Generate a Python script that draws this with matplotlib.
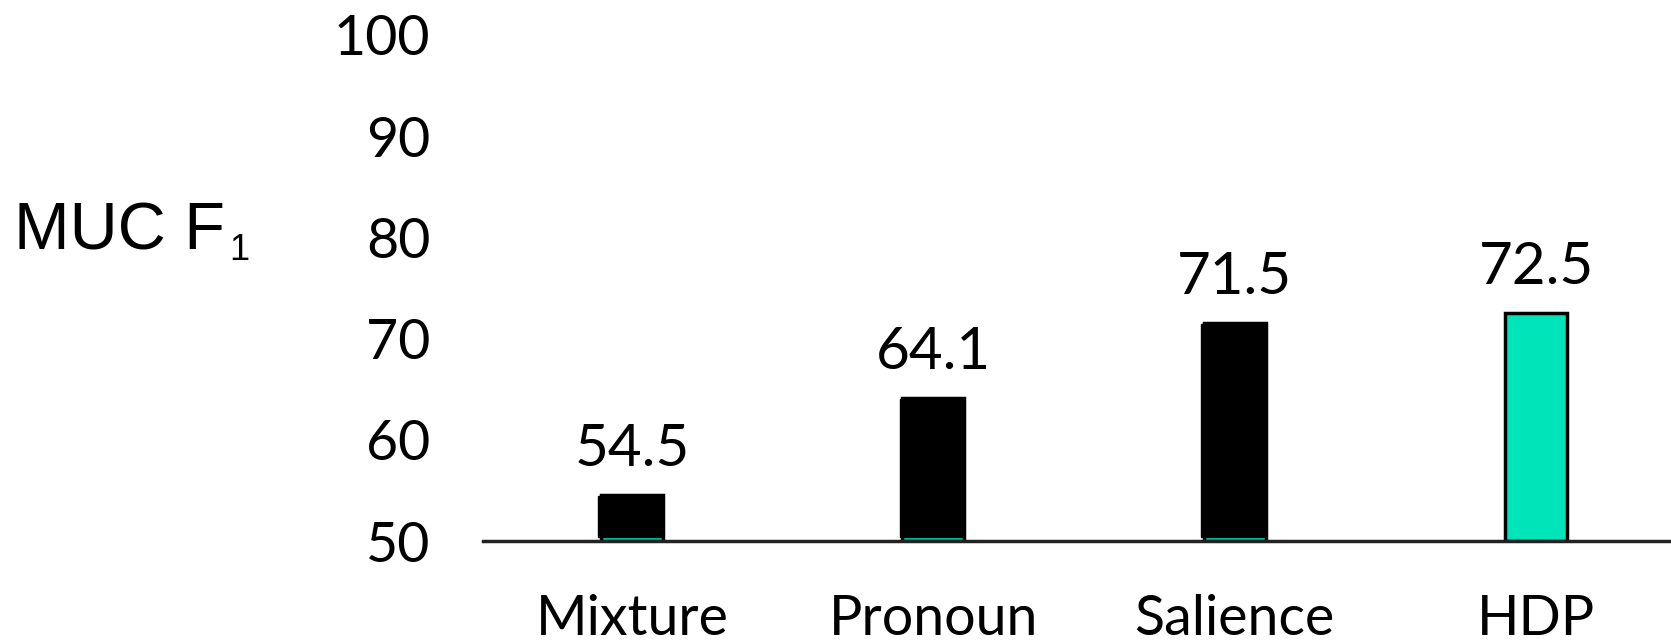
import matplotlib
matplotlib.use("Agg")
import matplotlib.pyplot as plt

categories = ["Mixture", "Pronoun", "Salience", "HDP"]
values = [54.5, 64.1, 71.5, 72.5]
labels = ["54.5", "64.1", "71.5", "72.5"]
overlay_black = [True, True, True, False]
yticks = [50, 60, 70, 80, 90, 100]

TEAL = "#00E4B9"
FONT = ["Lato", "DejaVu Sans"]

W, H = 1671, 643
fig = plt.figure(figsize=(W / 100, H / 100), dpi=100)
ax = fig.add_axes([483 / W, 1 - 541 / H, 1 - 483 / W, (541 - 35) / H])

x = list(range(len(categories)))
bw = 0.205
base = 50
# teal bars (underlying)
ax.bar(x, [v - base for v in values], bottom=base, width=bw, color=TEAL,
       edgecolor="black", linewidth=2.5, zorder=2)
# black overlay bars (slide animation state)
for xi, v, ob in zip(x, values, overlay_black):
    if ob:
        ax.bar(xi - 0.006, v - base - 0.4, bottom=base + 0.35, width=bw + 0.006,
               color="black", edgecolor="black", linewidth=1, zorder=3)

for xi, v, lab in zip(x, values, labels):
    ax.annotate(lab, (xi, v), xytext=(0, 21), textcoords="offset points",
                ha="center", va="baseline", fontsize=42, family=FONT)

ax.set_xlim(-0.4945, 3.448)
ax.set_ylim(50, 100)
ax.set_yticks(yticks)
ax.set_yticklabels([str(t) for t in yticks], fontsize=40, family=FONT)
ax.set_xticks(x)
ax.set_xticklabels(categories, fontsize=40, family=FONT)
ax.tick_params(axis="y", length=0, pad=38)
ax.tick_params(axis="x", length=0, pad=38)
for s in ["top", "right", "left"]:
    ax.spines[s].set_visible(False)
ax.spines["bottom"].set_linewidth(2.5)
ax.spines["bottom"].set_color("#222222")
ax.patch.set_alpha(0)

t = fig.text(14 / W, 1 - 250 / H, "MUC F", fontsize=48, family="Liberation Sans",
             va="baseline", ha="left")
fig.canvas.draw()
bb = t.get_window_extent()
fig.text((bb.x1 + 4) / W, 1 - 260 / H, "1", fontsize=26, family="Liberation Sans",
         va="baseline", ha="left")

fig.savefig("out.png", dpi=100)
